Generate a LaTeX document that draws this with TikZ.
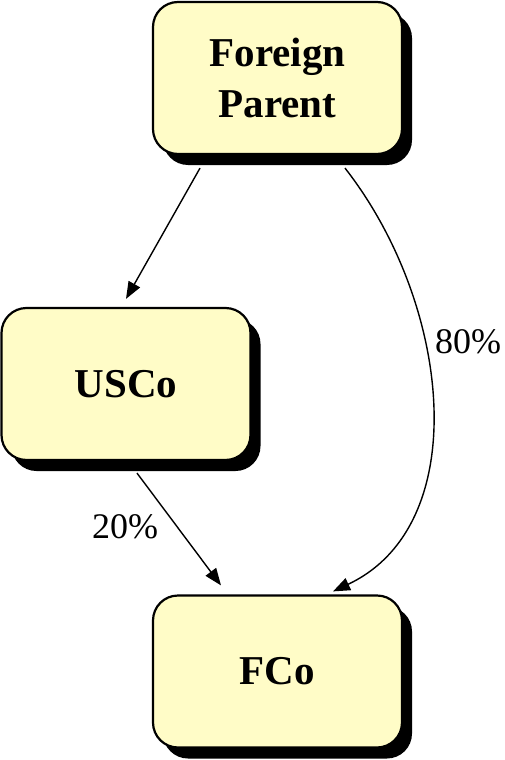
\documentclass[tikz,border=0pt]{standalone}
\usepackage{fontspec}
\setmainfont{Liberation Serif}
\usetikzlibrary{shadows,arrows.meta}
\begin{document}
\begin{tikzpicture}[x=1pt,y=-1pt,
  entity/.style={draw=black, line width=2.2pt, fill=yellow!22!white,
    rounded corners=25pt, minimum width=249pt, minimum height=152pt,
    align=center, font=\fontsize{41}{51}\selectfont\bfseries,
    drop shadow={shadow xshift=10pt, shadow yshift=-11pt, fill=black, opacity=1}},
  link/.style={line width=1.4pt, -{Triangle[length=17pt,width=13pt]}},
  pct/.style={font=\fontsize{36}{43}\selectfont}]
  \useasboundingbox (0,0) rectangle (505,760);

  \node[entity] (fp) at (277.5,78) {Foreign\\Parent};
  \node[entity] (us) at (126,384) {USCo};
  \node[entity] (fc) at (277.5,671.5) {FCo};

  % ownership links
  \draw[link] ([xshift=-77.5pt,yshift=-13pt]fp.south) -- ([yshift=8pt]us.north);
  \draw[link] ([xshift=11pt,yshift=-12pt]us.south) -- ([xshift=-56.5pt,yshift=9pt]fc.north);
  \draw[link] ([xshift=67.5pt,yshift=-13pt]fp.south)
    .. controls (452,305) and (474,525) .. ([xshift=55.5pt,yshift=3pt]fc.north);

  \node[pct] (p80) at (468,342) {80\%};
  \node[pct] (p20) at (125,527) {20\%};
\end{tikzpicture}
\end{document}
